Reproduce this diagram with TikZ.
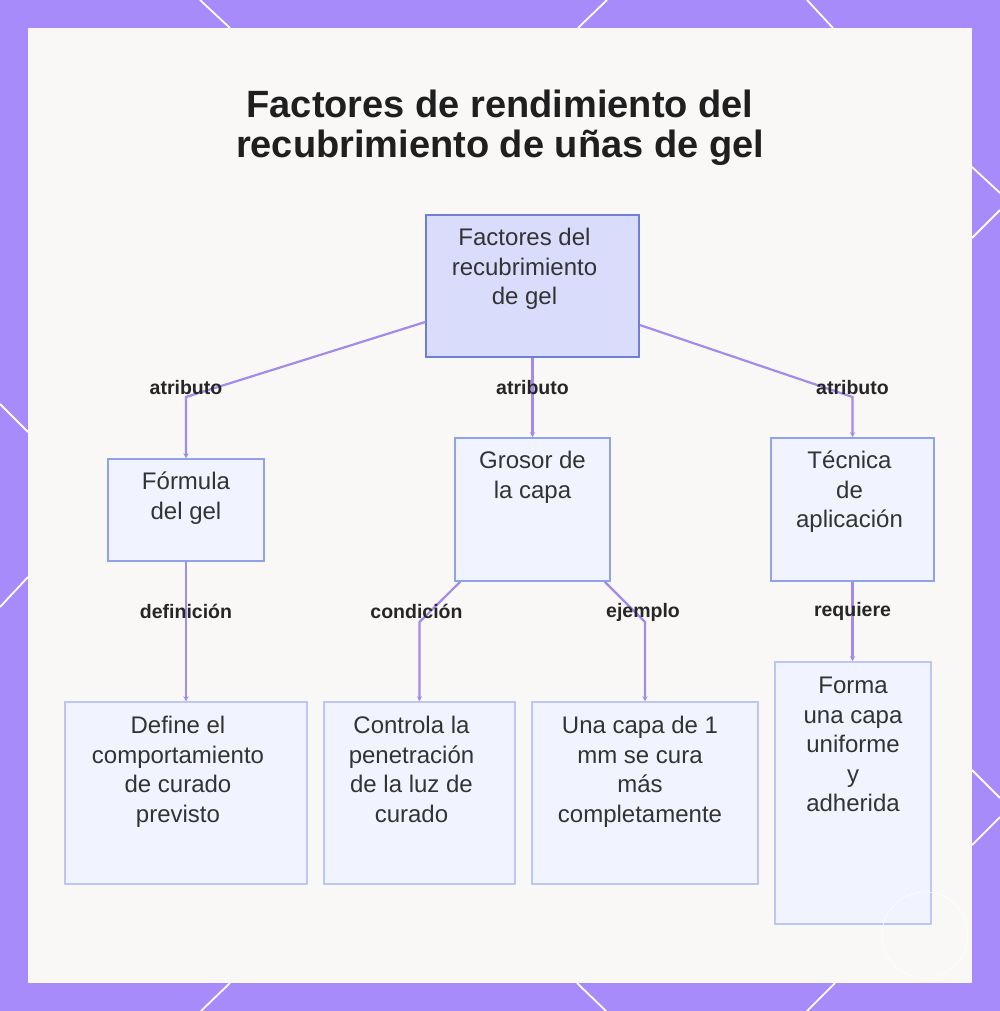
\documentclass[tikz,border=0pt]{standalone}
\usepackage{fontspec}
\setmainfont{Liberation Sans}
\usetikzlibrary{arrows.meta}

\definecolor{frame}{HTML}{A78BFA}
\definecolor{panel}{HTML}{F9F8F7}
\definecolor{rootfill}{HTML}{D9DDFB}
\definecolor{rootline}{HTML}{6F7FD6}
\definecolor{boxfill}{HTML}{F1F4FE}
\definecolor{boxline}{HTML}{8EA3E8}
\definecolor{leafline}{HTML}{BCC8F3}
\definecolor{linkc}{HTML}{A48BEA}
\definecolor{ink}{HTML}{333333}

\newcommand{\topln}{\rule{0pt}{22pt}}

\begin{document}
\begin{tikzpicture}[x=1pt,y=-1pt,
  rootbox/.style={draw=rootline, fill=rootfill, line width=1.5pt, inner sep=0pt},
  midbox/.style={draw=boxline, fill=boxfill, line width=1.5pt, inner sep=0pt},
  leafbox/.style={draw=leafline, fill=boxfill, line width=1.5pt, inner sep=0pt},
  boxtext/.style={anchor=north, align=center, inner sep=0pt, text=ink, font=\fontsize{24}{29.5}\selectfont},
  lbl/.style={inner sep=0pt, text=black!85, font=\bfseries\fontsize{19.5}{20}\selectfont},
  link/.style={draw=linkc, line width=2.2pt, -{Stealth[length=5pt,width=5pt]}},
  deco/.style={draw=white, line width=1.8pt}]

\useasboundingbox (0,0) rectangle (1000,1011);
\fill[frame] (0,0) rectangle (1000,1011);

% frame lines
\draw[deco] (200,0)--(230,28);
\draw[deco] (607,0)--(578,28);
\draw[deco] (807,0)--(833,28);
\draw[deco] (0,404)--(28,432);
\draw[deco] (28,577)--(0,607);
\draw[deco] (972,167)--(1000,193);
\draw[deco] (1000,210)--(972,238);
\draw[deco] (972,770)--(1000,798);
\draw[deco] (1000,817)--(972,845);
\draw[deco] (230,983)--(201,1011);
\draw[deco] (577,983)--(606,1011);
\draw[deco] (835,983)--(807,1011);

\fill[panel] (28,28) rectangle (972,983);

\node[anchor=north, align=center, inner sep=0pt, text=black!88, font=\bfseries\fontsize{38}{40}\selectfont] (title) at (500,87)
  {\rule{0pt}{30pt}Factores de rendimiento del\\recubrimiento de uñas de gel};

\node[rootbox, minimum width=213pt, minimum height=142pt] (root) at (532.5,286) {};
\node[boxtext] (roottxt) at ([xshift=-8pt,yshift=-9.5pt]root.north) {\topln Factores del\\recubrimiento\\de gel};

\node[midbox, minimum width=156pt, minimum height=102pt] (formula) at (186,510) {};
\node[boxtext] (formulatxt) at ([yshift=-9.5pt]formula.north) {\topln Fórmula\\del gel};

\node[midbox, minimum width=155pt, minimum height=143pt] (grosor) at (532.5,509.5) {};
\node[boxtext] (grosortxt) at ([yshift=-9.5pt]grosor.north) {\topln Grosor de\\la capa};

\node[midbox, minimum width=163pt, minimum height=143pt] (tecnica) at (852.5,509.5) {};
\node[boxtext] (tecnicatxt) at ([xshift=-3pt,yshift=-9.5pt]tecnica.north) {\topln Técnica\\de\\aplicación};

\node[leafbox, minimum width=242pt, minimum height=182pt] (define) at (186,793) {};
\node[boxtext] (definetxt) at ([xshift=-8pt,yshift=-10.5pt]define.north) {\topln Define el\\comportamiento\\de curado\\previsto};

\node[leafbox, minimum width=191pt, minimum height=182pt] (controla) at (419.5,793) {};
\node[boxtext] (controlatxt) at ([xshift=-8pt,yshift=-10.5pt]controla.north) {\topln Controla la\\penetración\\de la luz de\\curado};

\node[leafbox, minimum width=226pt, minimum height=182pt] (unacapa) at (645,793) {};
\node[boxtext] (unacapatxt) at ([xshift=-5pt,yshift=-10.5pt]unacapa.north) {\topln Una capa de 1\\mm se cura\\más\\completamente};

\node[leafbox, minimum width=156pt, minimum height=262pt] (forma) at (853,793) {};
\node[boxtext] (formatxt) at ([yshift=-10.5pt]forma.north) {\topln Forma\\una capa\\uniforme\\y\\adherida};

% links
\draw[link] ([yshift=-36pt]root.west) -- (186,397) node[lbl, yshift=9pt] (l1) {atributo} -- (formula.north);
\draw[link] (root.south) -- (grosor.north) node[lbl, pos=0.38] (l2) {atributo};
\draw[link] ([yshift=-39pt]root.east) -- (852.5,397) node[lbl, yshift=9pt] (l3) {atributo} -- (tecnica.north);
\draw[link] (formula.south) -- (define.north) node[lbl, pos=0.355] (l4) {definición};
\draw[link] ([xshift=6pt]grosor.south west) -- (419.5,622) node[lbl, yshift=11pt, xshift=-3pt] (l5) {condición} -- (controla.north);
\draw[link] ([xshift=-6pt]grosor.south east) -- (645,622) node[lbl, yshift=10pt, xshift=-2pt] (l6) {ejemplo} -- (unacapa.north);
\draw[link] (tecnica.south) -- (tecnica.south |- forma.north) node[lbl, pos=0.37] (l7) {requiere};

\draw[white, line width=0.8pt, opacity=0.8] (925,935) circle (43);

\end{tikzpicture}
\end{document}
